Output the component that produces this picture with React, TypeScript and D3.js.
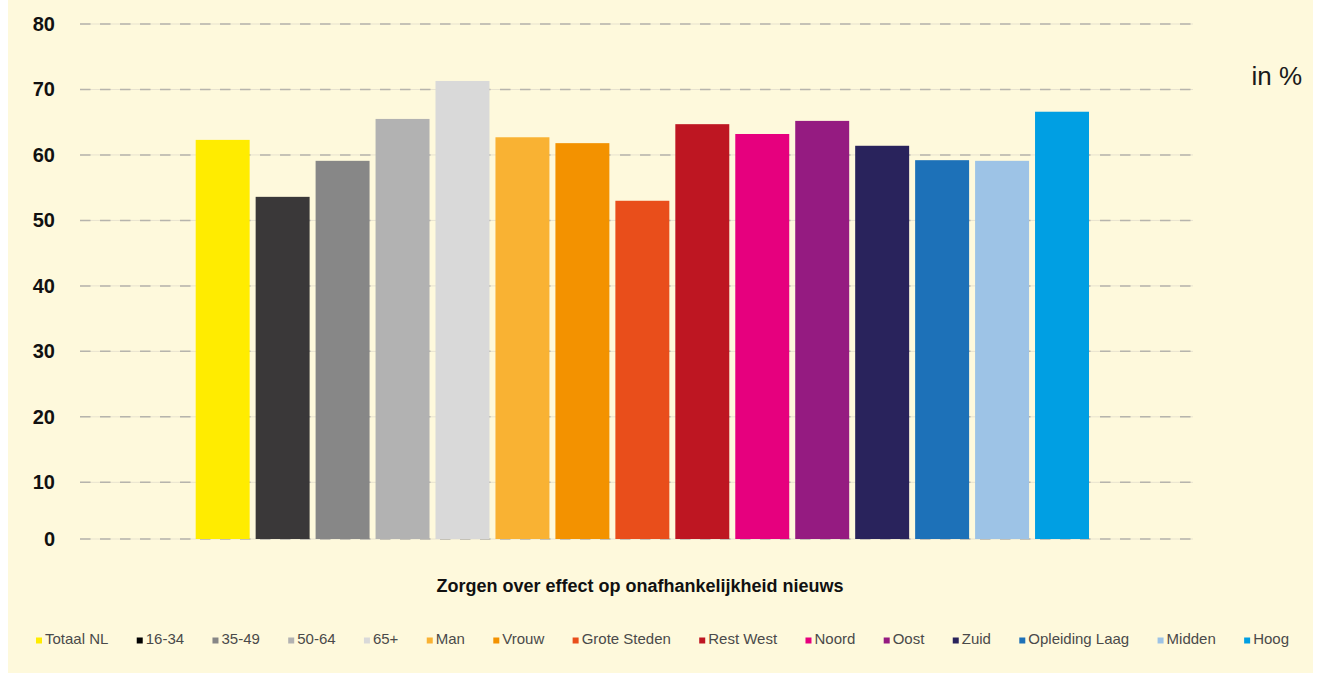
import React, { useEffect, useRef } from "react"
import * as d3 from "d3"

// values (in %)
const categories = [
  "Totaal NL", "16-34", "35-49", "50-64", "65+", "Man", "Vrouw", "Grote Steden",
  "Rest West", "Noord", "Oost", "Zuid", "Opleiding Laag", "Midden", "Hoog",
]
const values = [62.3, 53.6, 59.1, 65.5, 71.3, 62.7, 61.8, 53.0, 64.7, 63.2, 65.2, 61.4, 59.2, 59.1, 66.6]
const colors = [
  "#ffec00", "#3a3839", "#878787", "#b2b2b2", "#d9d9d9", "#f9b233", "#f39200", "#e94e1b",
  "#be1622", "#e6007e", "#951b81", "#29235c", "#1d71b8", "#9dc3e6", "#009fe3",
]
const yTicks = [0, 10, 20, 30, 40, 50, 60, 70, 80]
const axisTitle = "Zorgen over effect op onafhankelijkheid nieuws"
const unitLabel = "in %"

const SANS = "'Liberation Sans', Arial, sans-serif"

const drawBarChart = (wrapper, width, height) => {
  d3.select(wrapper).selectAll("*").remove()

  const svg = d3
    .select(wrapper)
    .append("svg")
    .attr("width", width)
    .attr("height", height)
    .style("display", "block")

  // cream panel
  svg.append("rect").attr("x", 8).attr("y", 0).attr("width", 1305).attr("height", height).attr("fill", "#fef9dc")

  const left = 80
  const right = 1193

  // the bottom step (0-10) is drawn shorter in the original, hence the piecewise scale
  const y = d3.scaleLinear().domain([0, 10, 80]).range([539, 482.3, 24])
  const x = d3.scaleBand().domain(categories).range([192.7, 1092]).paddingInner(0.1).paddingOuter(0.05)

  // gridlines
  const grid = svg.append("g")
  grid
    .selectAll("line.solid")
    .data(yTicks)
    .enter()
    .append("line")
    .attr("x1", left)
    .attr("x2", right)
    .attr("y1", d => y(d))
    .attr("y2", d => y(d))
    .attr("stroke", "#e8e3cf")
    .attr("stroke-width", 1)
  grid
    .selectAll("line.dash")
    .data(yTicks)
    .enter()
    .append("line")
    .attr("x1", left)
    .attr("x2", right)
    .attr("y1", d => y(d))
    .attr("y2", d => y(d))
    .attr("stroke", "#b6b4ac")
    .attr("stroke-width", 1.5)
    .attr("stroke-dasharray", "10.5,9.5")

  // y labels
  const yAxis = svg
    .append("g")
    .attr("transform", "translate(" + left + ",0)")
    .call(d3.axisLeft(y).tickValues(yTicks).tickSize(0).tickPadding(25).tickFormat(d3.format("d")))
  yAxis.select(".domain").remove()
  yAxis
    .selectAll("text")
    .attr("fill", "#111")
    .style("font-family", SANS)
    .style("font-weight", "bold")
    .style("font-size", "20px")

  // bars
  svg
    .selectAll("rect.bar")
    .data(categories)
    .enter()
    .append("rect")
    .attr("class", "bar")
    .attr("x", d => x(d))
    .attr("width", x.bandwidth())
    .attr("y", (d, i) => y(values[i]))
    .attr("height", (d, i) => y(0) - y(values[i]))
    .attr("fill", (d, i) => colors[i])

  // axis title
  svg
    .append("text")
    .attr("x", 640)
    .attr("y", 591.5)
    .attr("text-anchor", "middle")
    .attr("fill", "#111")
    .style("font-family", SANS)
    .style("font-weight", "bold")
    .style("font-size", "18px")
    .text(axisTitle)

  // unit
  svg
    .append("text")
    .attr("x", 1302)
    .attr("y", 85)
    .attr("text-anchor", "end")
    .attr("fill", "#1a1a1a")
    .style("font-family", SANS)
    .style("font-size", "26px")
    .text(unitLabel)

  // legend, spread so that it runs from 36 to 1289 like the original
  const legend = svg.append("g")
  const items = legend
    .selectAll("g")
    .data(categories)
    .enter()
    .append("g")
  items
    .append("rect")
    .attr("width", 6)
    .attr("height", 6)
    .attr("y", 637.5)
    .attr("fill", (d, i) => (i === 1 ? "#000" : colors[i]))
  const labels = items
    .append("text")
    .attr("x", 9)
    .attr("y", 644)
    .attr("fill", "#4a4a4a")
    .style("font-family", SANS)
    .style("font-size", "15px")
    .text(d => d)

  const widths = []
  labels.each(function () {
    widths.push(this.getComputedTextLength())
  })
  const start = 36
  const end = 1289
  const gap = (end - start - d3.sum(widths) - 9 * widths.length) / (widths.length - 1)
  let pos = start
  items.attr("transform", (d, i) => {
    const t = "translate(" + pos + ",0)"
    pos += 9 + widths[i] + gap
    return t
  })
}

export default function App() {
  const chart = useRef(null)
  useEffect(() => {
    document.body.style.margin = "0"
    drawBarChart(chart.current, 1335, 673)
  }, [])

  return <div ref={chart}></div>
}
